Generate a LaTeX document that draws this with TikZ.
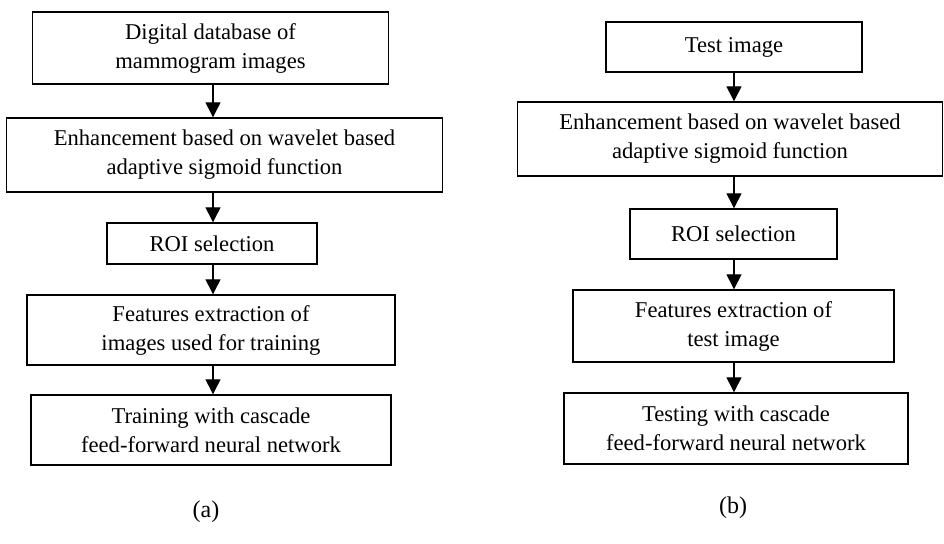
\documentclass[tikz,border=0pt]{standalone}
\usepackage{tikz}
\usepackage{fontspec}
\setmainfont{Liberation Serif}
\usetikzlibrary{arrows.meta}

\tikzset{
	stage/.style={draw, line width=0.7pt, align=center, inner sep=0pt,
		font=\fontsize{11.3}{14.5}\selectfont},
	flow/.style={line width=0.7pt, -{Triangle[length=7.5pt,width=7.5pt]}},
	caption/.style={font=\fontsize{12}{14}\selectfont}
}

\begin{document}
\begin{tikzpicture}[x=0.5pt, y=-0.5pt]
	\useasboundingbox (0, 0) rectangle (944, 544);
	% training chain (a)
	\node[stage, minimum width=178pt, minimum height=36pt] (d1) at (210.5, 48) {Digital database of\\mammogram images};
	\node[stage, minimum width=218pt, minimum height=37pt] (d2) at (224.5, 155) {Enhancement based on wavelet based\\adaptive sigmoid function};
	\node[stage, minimum width=105pt, minimum height=20.5pt] (d3) at (212, 243.5) {ROI selection};
	\node[stage, minimum width=184pt, minimum height=35pt] (d4) at (211, 330) {Features extraction of\\images used for training};
	\node[stage, minimum width=180pt, minimum height=35pt] (d5) at (211, 430) {Training with cascade\\feed-forward neural network};
	\node[caption] (la) at (206, 512) {(a)};
	% testing chain (b)
	\node[stage, minimum width=128pt, minimum height=25pt] (t1) at (734, 47) {Test image};
	\node[stage, minimum width=212.5pt, minimum height=37pt] (t2) at (730, 139) {Enhancement based on wavelet based\\adaptive sigmoid function};
	\node[stage, minimum width=103.5pt, minimum height=25pt] (t3) at (733.5, 234) {ROI selection};
	\node[stage, minimum width=160.5pt, minimum height=36pt] (t4) at (733.5, 326) {Features extraction of\\test image};
	\node[stage, minimum width=172pt, minimum height=35.5pt] (t5) at (736, 428.5) {Testing with cascade\\feed-forward neural network};
	\node[caption] (lb) at (733, 508) {(b)};
	% arrows
	\coordinate (ax) at (213, 0);
	\coordinate (bx) at (734, 0);
	\foreach \a/\b in {d1/d2, d2/d3, d3/d4, d4/d5}
		\draw[flow] (\a.south -| ax) -- (\b.north -| ax);
	\foreach \a/\b in {t1/t2, t2/t3, t3/t4, t4/t5}
		\draw[flow] (\a.south -| bx) -- (\b.north -| bx);
\end{tikzpicture}
\end{document}
